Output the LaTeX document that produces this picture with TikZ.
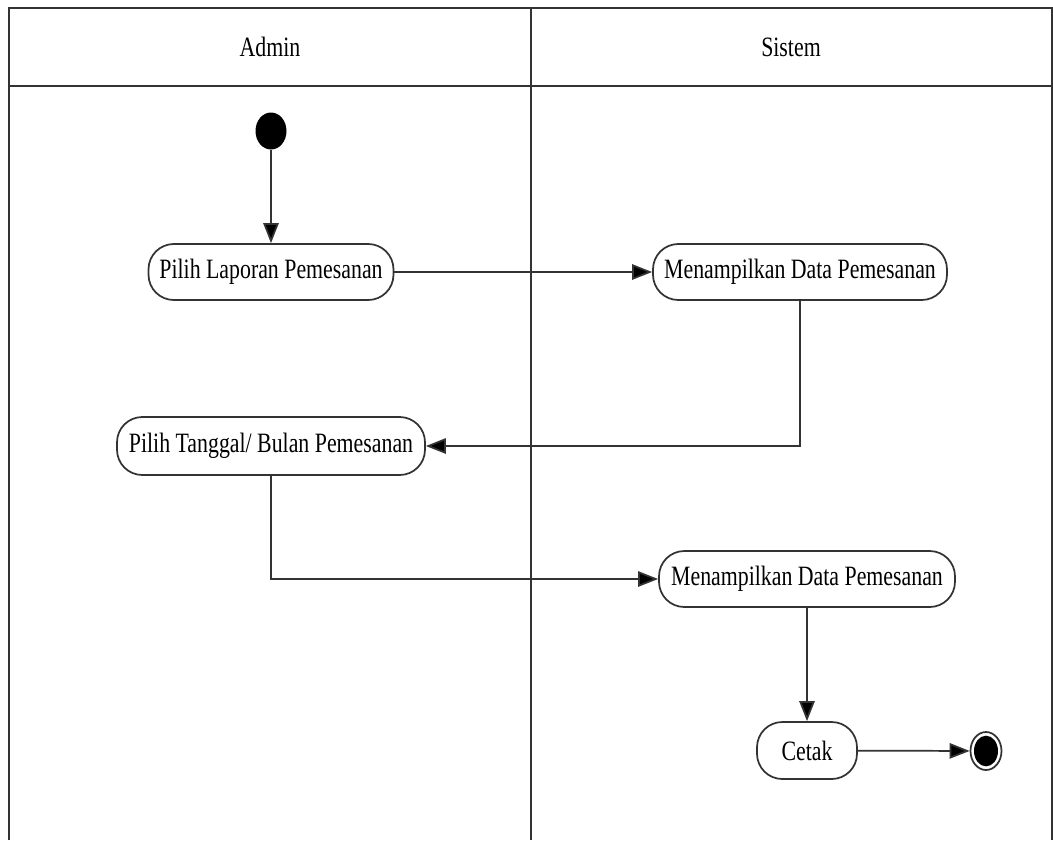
\documentclass[tikz,border=0pt]{standalone}
\usepackage{fontspec}
\setmainfont{Liberation Serif}[FakeStretch=0.78]
\usetikzlibrary{arrows.meta,shapes.geometric}
\begin{document}
\begin{tikzpicture}[x=0.75pt,y=-0.75pt,
  line/.style={draw=black!80, line width=1.3pt},
  action/.style={line, rounded corners=19pt, fill=white, inner sep=0pt,
    font=\fontsize{21}{24}\selectfont},
  flow/.style={line, -{Triangle[length=15pt,width=11.5pt,fill=black]}},
  lanetitle/.style={font=\fontsize{21}{24}\selectfont}]
\useasboundingbox (0,0) rectangle (1053,840);
% swimlane frame
\draw[line] (9,840) -- (9,8) -- (1052,8) -- (1052,840);
\draw[line] (9,86) -- (1052,86);
\draw[line] (531,8) -- (531,840);
\node[lanetitle] (admin) at (270,47) {Admin};
\node[lanetitle] (sistem) at (791,47) {Sistem};
% activities
\node[ellipse, fill=black, minimum width=23.25pt, minimum height=27.75pt, inner sep=0pt] (start) at (271,131) {};
\node[action, minimum width=183.75pt, minimum height=42pt] (pilihlap) at (271,272) {Pilih Laporan Pemesanan};
\node[action, minimum width=220.5pt, minimum height=42pt] (tampil1) at (800,272) {Menampilkan Data Pemesanan};
\node[action, minimum width=231pt, minimum height=43.5pt] (pilihtgl) at (271,446) {Pilih Tanggal/ Bulan Pemesanan};
\node[action, minimum width=222pt, minimum height=42pt] (tampil2) at (807,579) {Menampilkan Data Pemesanan};
\node[action, minimum width=75pt, minimum height=42.75pt] (cetak) at (807,750.5) {Cetak};
\node[ellipse, line, minimum width=23.25pt, minimum height=28.5pt, inner sep=0pt] (end) at (986,751) {};
\node[ellipse, fill=black, minimum width=18pt, minimum height=23pt, inner sep=0pt] (endcore) at (end.center) {};
% control flow
\draw[flow] (start) -- (pilihlap);
\draw[flow] (pilihlap) -- (tampil1);
\draw[flow] (tampil1.south) |- (pilihtgl.east);
\draw[flow] (pilihtgl.south) |- (tampil2.west);
\draw[flow] (tampil2) -- (cetak);
\draw[flow] (cetak) -- (end);
\end{tikzpicture}
\end{document}
